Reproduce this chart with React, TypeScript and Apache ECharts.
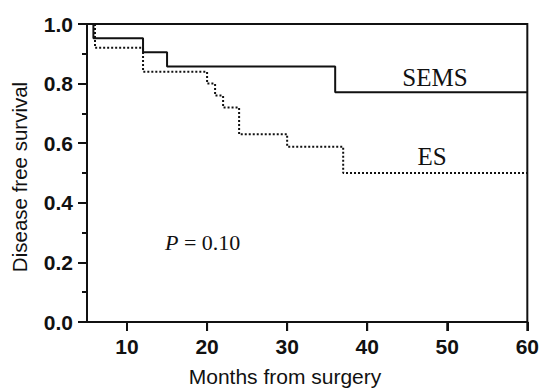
import React, { useEffect, useRef } from "react";
import * as echarts from "echarts";

const semsMonths = [5, 5.8, 12, 15, 36, 60];
const semsSurvival = [1.0, 0.952, 0.905, 0.857, 0.771, 0.771];
const esMonths = [5, 6, 12, 20, 21, 22, 24, 30, 37, 60];
const esSurvival = [1.0, 0.92, 0.84, 0.8, 0.76, 0.72, 0.63, 0.588, 0.5, 0.5];
const xTickValues = [10, 20, 30, 40, 50, 60];

const ink = "#111";

export default function App() {
  const ref = useRef<HTMLDivElement>(null);
  useEffect(() => {
    if (!ref.current) return;
    const chart = echarts.init(ref.current, undefined, { renderer: "svg" });
    chart.setOption({
      animation: false,
      backgroundColor: "#fff",
      grid: {
        left: 87,
        right: 13,
        top: 24,
        bottom: 66,
        show: true,
        borderColor: ink,
        borderWidth: 2,
        backgroundColor: "transparent",
      },
      xAxis: {
        type: "value",
        min: 5,
        max: 60,
        axisLine: { show: true, lineStyle: { color: ink, width: 2 } },
        axisTick: {
          show: true,
          inside: false,
          length: 9,
          customValues: xTickValues,
          lineStyle: { color: ink, width: 2 },
        },
        axisLabel: {
          customValues: xTickValues,
          margin: 14,
          color: ink,
          fontFamily: "'Liberation Sans', Arial, sans-serif",
          fontWeight: "bold",
          fontSize: 21,
        },
        splitLine: { show: false },
      },
      yAxis: {
        type: "value",
        min: 0,
        max: 1,
        interval: 0.2,
        axisLine: { show: true, lineStyle: { color: ink, width: 2 } },
        axisTick: { show: true, length: 9, lineStyle: { color: ink, width: 2 } },
        minorTick: { show: true, splitNumber: 2, length: 5, lineStyle: { color: ink, width: 2 } },
        axisLabel: {
          margin: 14,
          color: ink,
          fontFamily: "'Liberation Sans', Arial, sans-serif",
          fontWeight: "bold",
          fontSize: 21,
          formatter: (v: number) => v.toFixed(1),
        },
        splitLine: { show: false },
      },
      series: [
        {
          name: "SEMS",
          type: "line",
          step: "end",
          symbol: "none",
          data: semsMonths.map((m, i) => [m, semsSurvival[i]]),
          lineStyle: { color: ink, width: 2, type: "solid" },
          z: 3,
        },
        {
          name: "ES",
          type: "line",
          step: "end",
          symbol: "none",
          data: esMonths.map((m, i) => [m, esSurvival[i]]),
          lineStyle: { color: ink, width: 2, type: [2, 2] },
          z: 2,
        },
        {
          name: "xticks",
          type: "custom",
          clip: false,
          silent: true,
          data: xTickValues.map((v) => [v, 0]),
          renderItem: (params: any, api: any) => {
            const p = api.coord([api.value(0), 0]);
            return {
              type: "line",
              shape: { x1: p[0], y1: p[1], x2: p[0], y2: p[1] + 9 },
              style: { stroke: ink, lineWidth: 2 },
            };
          },
          z: 4,
        },
      ],
      graphic: [
        {
          type: "text",
          x: 435,
          y: 77,
          style: {
            text: "SEMS",
            font: "25px 'Liberation Serif', 'Times New Roman', serif",
            fill: ink,
            textAlign: "center",
            textVerticalAlign: "middle",
          },
        },
        {
          type: "text",
          x: 432,
          y: 156,
          style: {
            text: "ES",
            font: "25px 'Liberation Serif', 'Times New Roman', serif",
            fill: ink,
            textAlign: "center",
            textVerticalAlign: "middle",
          },
        },
        {
          type: "text",
          x: 165,
          y: 242,
          style: {
            text: "{i|P} = 0.10",
            font: "22px 'Liberation Serif', 'Times New Roman', serif",
            fill: ink,
            textAlign: "left",
            textVerticalAlign: "middle",
            rich: {
              i: {
                fontStyle: "italic",
                fontFamily: "'Liberation Serif', 'Times New Roman', serif",
                fontSize: 22,
                fill: ink,
              },
            },
          },
        },
        {
          type: "text",
          x: 285,
          y: 376,
          style: {
            text: "Months from surgery",
            font: "21px 'Liberation Sans', Arial, sans-serif",
            fill: ink,
            textAlign: "center",
            textVerticalAlign: "middle",
          },
        },
        {
          type: "text",
          x: 19,
          y: 177,
          rotation: Math.PI / 2,
          style: {
            text: "Disease free survival",
            font: "20.5px 'Liberation Sans', Arial, sans-serif",
            fill: ink,
            textAlign: "center",
            textVerticalAlign: "middle",
          },
        },
      ],
    });
    return () => chart.dispose();
  }, []);
  return (
    <div
      ref={ref}
      style={{ position: "fixed", left: 0, top: 0, width: 542, height: 388 }}
    />
  );
}
